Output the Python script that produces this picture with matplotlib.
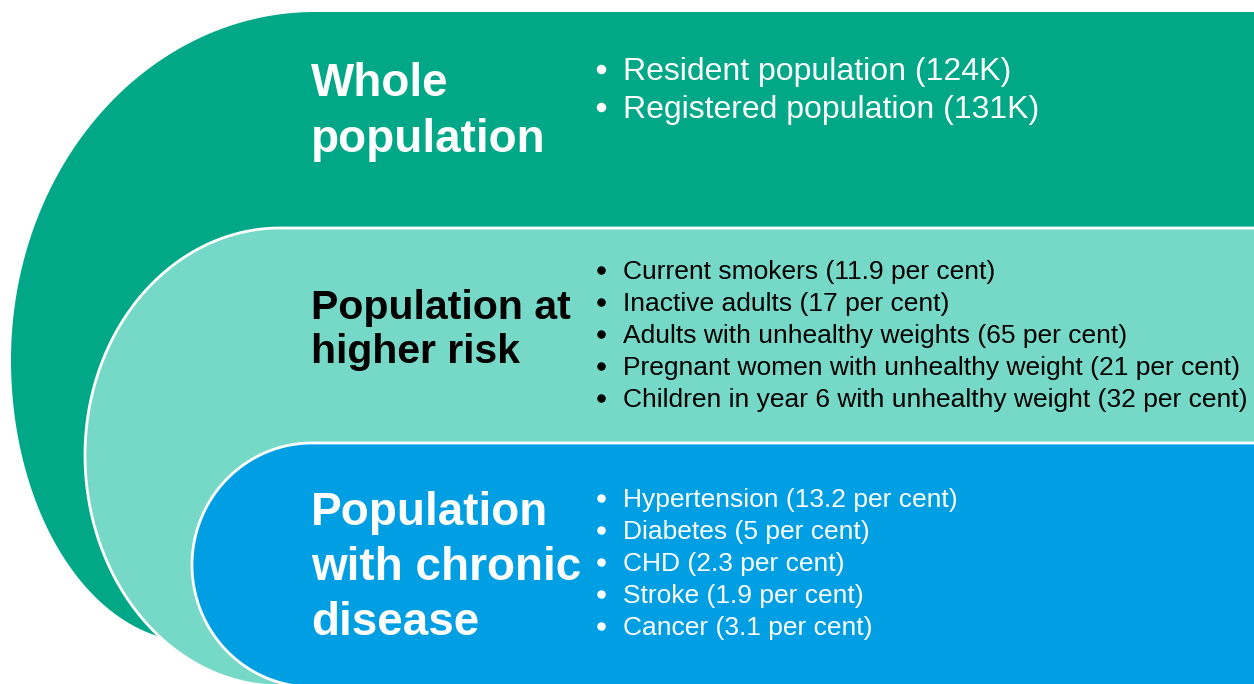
import numpy as np
import matplotlib
matplotlib.use('Agg')
import matplotlib.pyplot as plt
from matplotlib.patches import Polygon

# tiers, outermost first
titles = ['Whole\npopulation',
          'Population at\nhigher risk',
          'Population\nwith chronic\ndisease']

whole_items = ['Resident population (124K)',
               'Registered population (131K)']
risk_items = ['Current smokers (11.9 per cent)',
              'Inactive adults (17 per cent)',
              'Adults with unhealthy weights (65 per cent)',
              'Pregnant women with unhealthy weight (21 per cent)',
              'Children in year 6 with unhealthy weight (32 per cent)']
chronic_items = ['Hypertension (13.2 per cent)',
                 'Diabetes (5 per cent)',
                 'CHD (2.3 per cent)',
                 'Stroke (1.9 per cent)',
                 'Cancer (3.1 per cent)']
items = [whole_items, risk_items, chronic_items]

fill_colors = ['#00A887', '#76D9C7', '#009FE3']
text_colors = ['white', 'black', 'white']

# shape geometry in pixels: x_left, y_mid, y_top, x_top, y_bot, x_bot
shapes = [(11, 360, 12, 315, 642, 195),
          (85, 455, 228, 280, 686, 280),
          (192, 565, 443, 312, 687, 312)]
edge_w = [0, 2.0, 2.0]

# text layout: title size, title baselines, item size, item baselines
title_size = [33, 29.5, 33]
title_y = [96, 319, 525]
title_step = [56, 44, 55]
item_size = [23, 19, 19]
item_y = [80, 279, 507]
item_step = [38, 32, 32]
dot_px = [9.5, 8.5, 8.5]
dot_lift = [11, 9.5, 9.5]

W, H = 1254, 684
fig = plt.figure(figsize=(W / 100, H / 100), dpi=100)
ax = fig.add_axes([0, 0, 1, 1])
ax.set_xlim(0, W)
ax.set_ylim(H, 0)
ax.axis('off')

plt.rcParams['font.family'] = ['Liberation Sans', 'DejaVu Sans']


def d_shape(x_left, y_mid, y_top, x_top, y_bot, x_bot, x_right=1320):
    t1 = np.linspace(0, np.pi / 2, 120)
    t2 = np.linspace(np.pi / 2, np.pi, 120)
    a_u, b_u = x_top - x_left, y_mid - y_top
    a_l, b_l = x_bot - x_left, y_bot - y_mid
    up = np.column_stack([x_top - a_u * np.sin(t1), y_mid - b_u * np.cos(t1)])
    lo = np.column_stack([x_bot - a_l * np.sin(t2), y_mid - b_l * np.cos(t2)])
    pts = np.vstack([[[x_right, y_top]], up, lo, [[x_right, y_bot]]])
    return pts


for i in range(3):
    pts = d_shape(*shapes[i])
    ax.add_patch(Polygon(pts, closed=True, facecolor=fill_colors[i],
                         edgecolor='white', linewidth=edge_w[i],
                         joinstyle='round', zorder=i + 1))

    for k, line in enumerate(titles[i].split('\n')):
        ax.text(311, title_y[i] + k * title_step[i], line,
                fontsize=title_size[i], fontweight='bold',
                color=text_colors[i], va='baseline', ha='left', zorder=10)

    ys = [item_y[i] + k * item_step[i] for k in range(len(items[i]))]
    ax.plot([600.5] * len(ys), [y - dot_lift[i] for y in ys], 'o',
            ms=dot_px[i] * 0.72, mew=0, color=text_colors[i], zorder=10)
    for y, it in zip(ys, items[i]):
        ax.text(623, y, it, fontsize=item_size[i],
                color=text_colors[i], va='baseline', ha='left', zorder=10)

fig.savefig('out.png', dpi=100, facecolor='white')
